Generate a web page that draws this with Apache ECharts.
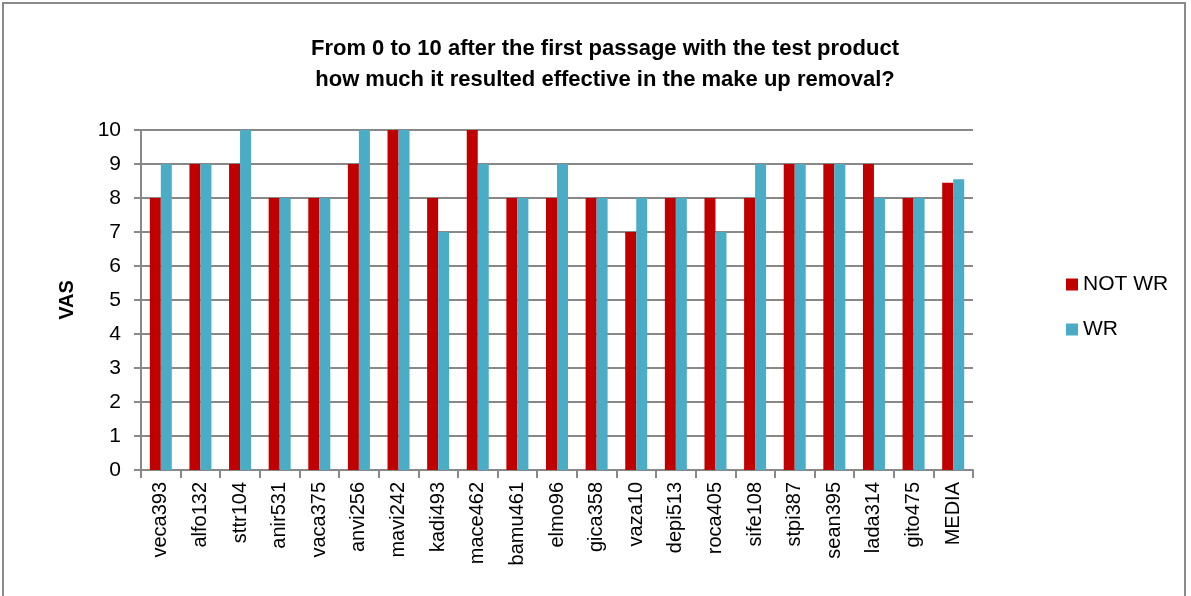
<!DOCTYPE html>
<html>
<head>
<meta charset="utf-8">
<script src="https://cdn.jsdelivr.net/npm/echarts@6/dist/echarts.min.js"></script>
<style>
  html, body { margin: 0; padding: 0; background: #fff; }
  #frame {
    position: absolute; left: 2px; top: 2px; width: 1184px; height: 600px;
    border: 2px solid #8a8a8a; box-sizing: border-box;
  }
  #chart { width: 1191px; height: 596px; }
</style>
</head>
<body>
<div id="frame"></div>
<div id="chart"></div>
<script>
const categories = ['veca393', 'alfo132', 'sttr104', 'anir531', 'vaca375', 'anvi256', 'mavi242',
  'kadi493', 'mace462', 'bamu461', 'elmo96', 'gica358', 'vaza10', 'depi513', 'roca405',
  'sife108', 'stpi387', 'sean395', 'lada314', 'gito475', 'MEDIA']
const notWr = [8, 9, 9, 8, 8, 9, 10, 8, 10, 8, 8, 8, 7, 8, 8, 8, 9, 9, 9, 8, 8.45]
const wr = [9, 9, 10, 8, 8, 10, 10, 7, 9, 8, 9, 8, 8, 8, 7, 9, 9, 9, 8, 8, 8.55]
const yTicks = [0, 1, 2, 3, 4, 5, 6, 7, 8, 9, 10]

const font = '"Liberation Sans", sans-serif'
const chart = echarts.init(document.getElementById('chart'))

chart.setOption({
  animation: false,
  title: {
    text: 'From 0 to 10 after the first passage with the test product\nhow much it resulted effective in the make up removal?',
    left: 600,
    textAlign: 'center',
    top: 28,
    textStyle: { fontFamily: font, fontSize: 22, fontWeight: 'bold', color: '#000', lineHeight: 31 }
  },
  legend: {
    orient: 'vertical',
    left: 1061,
    top: 269,
    itemWidth: 12,
    itemHeight: 12,
    itemGap: 24,
    icon: 'rect',
    textStyle: { fontFamily: font, fontSize: 21, color: '#000' },
    data: ['NOT WR', 'WR']
  },
  grid: { left: 141, right: 218, top: 130, bottom: 126 },
  xAxis: {
    type: 'category',
    data: categories,
    axisLine: { lineStyle: { color: '#888', width: 2 } },
    axisTick: { show: true, length: 8, lineStyle: { color: '#888', width: 2 } },
    axisLabel: {
      rotate: 90, margin: 12, fontFamily: font,
      fontSize: 20, color: '#000', interval: 0
    }
  },
  yAxis: {
    type: 'value',
    min: yTicks[0],
    max: yTicks[yTicks.length - 1],
    interval: 1,
    name: 'VAS',
    nameLocation: 'middle',
    nameRotate: 90,
    nameGap: 64,
    nameTextStyle: { fontFamily: font, fontSize: 20, fontWeight: 'bold', color: '#000' },
    axisLine: { show: true, lineStyle: { color: '#888', width: 2 } },
    axisTick: { show: true, length: 7, lineStyle: { color: '#888', width: 2 } },
    splitLine: { lineStyle: { color: '#888', width: 2 } },
    axisLabel: { fontFamily: font, fontSize: 21, color: '#000', margin: 20 }
  },
  series: [
    {
      name: 'NOT WR',
      type: 'bar',
      data: notWr,
      barWidth: 11,
      barGap: '0%',
      itemStyle: { color: '#C00000' }
    },
    {
      name: 'WR',
      type: 'bar',
      data: wr,
      barWidth: 11,
      barGap: '0%',
      itemStyle: { color: '#4BACC6' }
    }
  ]
})
</script>
</body>
</html>
